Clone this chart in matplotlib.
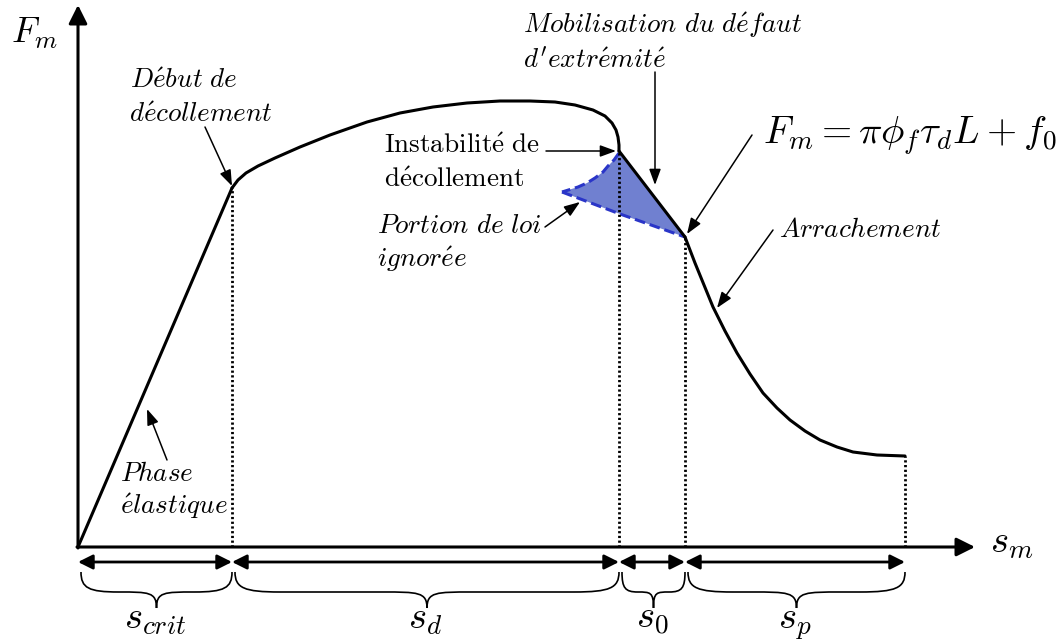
import numpy as np
import matplotlib
matplotlib.use('Agg')
import matplotlib.pyplot as plt
from matplotlib.path import Path
from matplotlib.patches import PathPatch, Polygon

plt.rcParams['mathtext.fontset'] = 'cm'
plt.rcParams['font.family'] = 'DejaVu Serif'

# schematic force-displacement law (arbitrary units, origin at 0,0)
elastic_s = [0, 154]
elastic_F = [0, 359]
debond_s = [154, 160, 168, 180, 197, 222, 252, 289, 322, 355, 389, 422, 452,
            477, 497, 515, 527, 534, 538, 540, 541, 541]
debond_F = [359, 367, 374, 381, 389, 400, 412, 425, 434, 440, 444, 446, 446,
            445, 442, 437, 431, 424, 417, 410, 402, 396]
soft_s = [541, 607]
soft_F = [396, 310]
pull_s = [607, 612, 617, 626, 635, 647, 659, 672, 685, 699, 712, 727, 742,
          759, 775, 799, 827]
pull_F = [310, 297, 284, 262, 240, 216, 194, 173, 154, 139, 127, 116, 107,
          100, 95, 92, 91]
ign_upper_s = [541, 536, 530, 525, 517, 509, 500, 484]
ign_upper_F = [394, 387, 381, 375, 369, 364, 360, 355]
ign_lower_s = [484, 542, 607]
ign_lower_F = [355, 333, 310]

s_marks = [0, 154, 541, 607, 827]
F_marks = [0, 359, 396, 310, 91]
s_labels = [r'$s_{crit}$', r'$s_d$', r'$s_0$', r'$s_p$']


def it(t):
    t = t.replace(' ', r'\ ').replace('é', r'\acute{e}')
    return r'$\mathit{' + t + '}$'


def rm(t):
    t = t.replace(' ', r'\ ').replace('é', r'\acute{e}')
    return r'$\mathrm{' + t + '}$'


def brace(ax, x0, x1, ytop, ymid, ytip, r):
    xc = (x0 + x1) / 2
    r = min(r, (x1 - x0) / 4)
    verts = [(x0, ytop), (x0, ymid + 0.2 * (ytop - ymid)), (x0 + 0.2 * r, ymid), (x0 + r, ymid),
             (xc - r, ymid),
             (xc - 0.2 * r, ymid), (xc, ymid), (xc, ytip),
             (xc, ymid), (xc + 0.2 * r, ymid), (xc + r, ymid),
             (x1 - r, ymid),
             (x1 - 0.2 * r, ymid), (x1, ymid + 0.2 * (ytop - ymid)), (x1, ytop)]
    codes = [Path.MOVETO, Path.CURVE4, Path.CURVE4, Path.CURVE4,
             Path.LINETO,
             Path.CURVE4, Path.CURVE4, Path.CURVE4,
             Path.CURVE4, Path.CURVE4, Path.CURVE4,
             Path.LINETO,
             Path.CURVE4, Path.CURVE4, Path.CURVE4]
    ax.add_patch(PathPatch(Path(verts, codes), fc='none', ec='k', lw=1.2))


fig = plt.figure(figsize=(10.63, 6.41), dpi=100)
ax = fig.add_axes([0, 0, 1, 1])
ax.set_xlim(-78, 985)
ax.set_ylim(-94, 547)
ax.axis('off')

# axes
ax.annotate('', xy=(0, 542), xytext=(0, -1),
            arrowprops=dict(arrowstyle='-|>', lw=2.2, color='k', mutation_scale=28,
                            shrinkA=0, shrinkB=0))
ax.annotate('', xy=(897, 0), xytext=(-1, 0),
            arrowprops=dict(arrowstyle='-|>', lw=2.2, color='k', mutation_scale=28,
                            shrinkA=0, shrinkB=0))
ax.text(-67, 504, r'$F_m$', fontsize=26, va='baseline')
ax.text(912, -5, r'$s_m$', fontsize=28, va='baseline')

# ignored part of the law
poly = list(zip(ign_upper_s, ign_upper_F)) + list(zip(ign_lower_s[1:], ign_lower_F[1:]))
ax.add_patch(Polygon(poly, closed=True, fc='#7080d0', ec='none'))
ax.plot(ign_upper_s, ign_upper_F, color='#2a35c8', lw=2.2, ls=(0, (3.5, 1.6)))
ax.plot(ign_lower_s, ign_lower_F, color='#2a35c8', lw=2.2, ls=(0, (3.5, 1.6)))

# the law
kw = dict(color='k', lw=2.2, solid_capstyle='round', solid_joinstyle='round')
ax.plot(elastic_s, elastic_F, **kw)
ax.plot(debond_s, debond_F, **kw)
ax.plot(soft_s, soft_F, **kw)
ax.plot(pull_s, pull_F, **kw)

for s, F in zip(s_marks[1:], F_marks[1:]):
    ax.plot([s, s], [0, F], color='k', lw=2.0, ls=(0, (0.8, 0.9)))

# dimension arrows and braces
for i in range(4):
    a, b = s_marks[i], s_marks[i + 1]
    ax.annotate('', xy=(b, -15), xytext=(a, -15),
                arrowprops=dict(arrowstyle='<|-|>', lw=2, color='k', mutation_scale=22,
                                shrinkA=0, shrinkB=0))
    brace(ax, a + 3, b, -25, -45, -61, 45)
    ax.text((a + b) / 2, -81, s_labels[i], fontsize=28, ha='center', va='baseline')

# annotations
akw = dict(arrowstyle='-|>,head_length=0.6,head_width=0.22', lw=1.1, color='k',
           mutation_scale=16, shrinkA=0, shrinkB=0)
fs = 19.5

ax.text(52, 459, it('Début de'), fontsize=fs, va='baseline')
ax.text(51, 425, it('décollement'), fontsize=fs, va='baseline')
ax.annotate('', xy=(154, 361), xytext=(127, 420), arrowprops=akw)

ax.text(445, 514, it('Mobilisation du défaut'), fontsize=fs, va='baseline')
ax.text(445, 479, it("d'extrémité"), fontsize=fs, va='baseline')
ax.annotate('', xy=(577, 362), xytext=(577, 475), arrowprops=akw)

ax.text(306, 394, rm('Instabilité de'), fontsize=fs, va='baseline')
ax.text(306, 360, rm('décollement'), fontsize=fs, va='baseline')
ax.annotate('', xy=(538, 396), xytext=(468, 396), arrowprops=akw)

ax.text(299, 314, it('Portion de loi'), fontsize=fs, va='baseline')
ax.text(299, 280, it('ignorée'), fontsize=fs, va='baseline')
ax.annotate('', xy=(502, 345), xytext=(467, 320), arrowprops=akw)

ax.text(685, 404, r'$F_m = \pi\phi_f\tau_d L + f_0$', fontsize=28, va='baseline')
ax.annotate('', xy=(609, 313), xytext=(674, 412), arrowprops=akw)

ax.text(701, 310, it('Arrachement'), fontsize=fs, va='baseline')
ax.annotate('', xy=(639, 239), xytext=(695, 317), arrowprops=akw)

ax.text(42, 66, it('Phase'), fontsize=fs, va='baseline')
ax.text(42, 33, it('élastique'), fontsize=fs, va='baseline')
ax.annotate('', xy=(69, 138), xytext=(89, 87), arrowprops=akw)

fig.savefig('out.png', dpi=100)
